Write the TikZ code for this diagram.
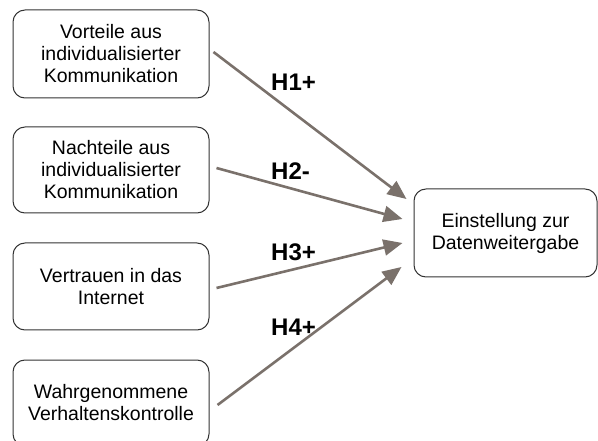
\documentclass[tikz,border=0pt]{standalone}
\usepackage{fontspec}
\setmainfont{Liberation Sans}
\usetikzlibrary{arrows.meta,calc}
\definecolor{arrcol}{HTML}{7A716B}
\definecolor{boxline}{HTML}{333333}
\tikzset{
  box/.style={draw=boxline, line width=1pt, rounded corners=12pt, align=center,
    font=\fontsize{19.5pt}{22pt}\selectfont, inner sep=0pt},
  hyp/.style={anchor=base west, inner sep=0pt, font=\fontsize{24pt}{26pt}\selectfont\bfseries},
  arr/.style={draw=arrcol, line width=2.6pt, -{Triangle[length=19pt,width=16pt]}},
}
\begin{document}
\begin{tikzpicture}[x=1pt,y=-1pt]
\useasboundingbox (0,0) rectangle (598,441);
\clip (0,0) rectangle (598,441);
\node[box, minimum width=196pt, minimum height=88pt] (b1) at (111,54) {Vorteile aus\\individualisierter\\Kommunikation};
\node[box, minimum width=196pt, minimum height=86pt] (b2) at (111,170) {Nachteile aus\\individualisierter\\Kommunikation};
\node[box, minimum width=196pt, minimum height=87pt] (b3) at (111,286.5) {Vertrauen in das\\Internet};
\node[box, minimum width=196pt, minimum height=86pt] (b4) at (111,403) {Wahrgenommene\\Verhaltenskontrolle};
\node[box, minimum width=183pt, minimum height=88pt] (t) at (505.5,233) {Einstellung zur\\Datenweitergabe};
\draw[arr] ($(b1.east)+(4,-2)$) -- ($(t.west)+(-7,-34)$);
\draw[arr] ($(b2.east)+(7,-2)$) -- ($(t.west)+(-11,-14)$);
\draw[arr] ($(b3.east)+(7,1.5)$) -- ($(t.west)+(-11,10)$);
\draw[arr] ($(b4.east)+(8,2)$) -- ($(t.west)+(-12,34)$);
\node[hyp] (h1) at (271,90.7) {H1+};
\node[hyp] (h2) at (271,179.3) {H2-};
\node[hyp] (h3) at (271,260.7) {H3+};
\node[hyp] (h4) at (271,335.7) {H4+};
\end{tikzpicture}
\end{document}
